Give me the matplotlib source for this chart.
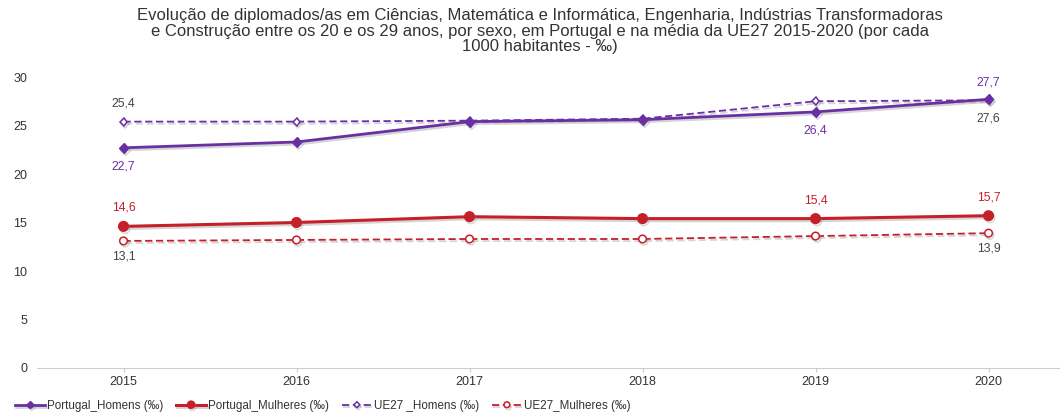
import matplotlib
matplotlib.use("Agg")
import matplotlib.pyplot as plt
import matplotlib.patheffects as pe

years = [2015, 2016, 2017, 2018, 2019, 2020]
pt_homens = [22.7, 23.3, 25.4, 25.6, 26.4, 27.7]
pt_mulheres = [14.6, 15.0, 15.6, 15.4, 15.4, 15.7]
ue_homens = [25.4, 25.4, 25.5, 25.7, 27.5, 27.6]
ue_mulheres = [13.1, 13.2, 13.3, 13.3, 13.6, 13.9]

labels = ["Portugal_Homens (‰)", "Portugal_Mulheres (‰)", "UE27 _Homens (‰)", "UE27_Mulheres (‰)"]
title = ("Evolução de diplomados/as em Ciências, Matemática e Informática, Engenharia, Indústrias Transformadoras\n"
         "e Construção entre os 20 e os 29 anos, por sexo, em Portugal e na média da UE27 2015-2020 (por cada\n"
         "1000 habitantes - ‰)")

plt.rcParams['font.family'] = ['Liberation Sans', 'DejaVu Sans']

purple = "#6a2fa3"
red = "#c51f2a"
grey = "#444444"

fig = plt.figure(figsize=(10.6, 4.12), dpi=100)
ax = fig.add_axes([37/1060, 1 - 368/412, (1060-37)/1060, (368-77)/412])

shadow = [pe.SimpleLineShadow(offset=(1, -1.5), shadow_color='#888888', alpha=0.35), pe.Normal()]

ax.plot(years, ue_homens, color=purple, lw=1.3, ls=(0, (4, 2)), marker='D', ms=4.0,
        mfc='white', mec=purple, mew=1.1, label=labels[2], path_effects=shadow, zorder=3)
ax.plot(years, ue_mulheres, color=red, lw=1.3, ls=(0, (4, 2)), marker='o', ms=5.5,
        mfc='white', mec=red, mew=1.1, label=labels[3], path_effects=shadow, zorder=3)
ax.plot(years, pt_homens, color=purple, lw=2.0, marker='D', ms=5.0,
        mfc=purple, mec=purple, label=labels[0], path_effects=shadow, zorder=4)
ax.plot(years, pt_mulheres, color=red, lw=2.2, marker='o', ms=7,
        mfc=red, mec=red, label=labels[1], path_effects=shadow, zorder=4)

def fmt(v):
    return f"{v:.1f}".replace('.', ',')

fs = 8.8

def lab(series, i, color, up, off=9):
    ax.annotate(fmt(series[i]), (years[i], series[i]), xytext=(0, off if up else -off),
                textcoords='offset points', ha='center', va='bottom' if up else 'top',
                color=color, fontsize=fs)

lab(ue_homens, 0, grey, True)
lab(pt_homens, 0, purple, False)
lab(pt_mulheres, 0, red, True)
lab(ue_mulheres, 0, grey, False, 7)
lab(pt_homens, 4, purple, False)
lab(pt_mulheres, 4, red, True)
lab(pt_homens, 5, purple, True, 8)
lab(ue_homens, 5, grey, False)
lab(pt_mulheres, 5, red, True)
lab(ue_mulheres, 5, grey, False, 7)

ax.set_xlim(2014.5, 2020.413)
ax.set_ylim(0, 30)
ax.set_yticks([0, 5, 10, 15, 20, 25, 30])
ax.set_xticks(years)
ax.set_xticklabels([str(y) for y in years])
for s in ['top', 'right', 'left']:
    ax.spines[s].set_visible(False)
ax.spines['bottom'].set_color('#cccccc')
ax.spines['bottom'].set_linewidth(0.8)
ax.tick_params(axis='y', length=0, labelsize=9, labelcolor='#333333', pad=7)
ax.tick_params(axis='x', length=3, color='#cccccc', labelsize=9, labelcolor='#333333', pad=3)
ax.patch.set_visible(False)

fig.text(540/1060, 1 - 8/412, title, ha='center', va='top', fontsize=12, color='#333333', linespacing=1.05)

handles, lbls = ax.get_legend_handles_labels()
order = [2, 3, 0, 1]
leg = fig.legend([handles[k] for k in order], [lbls[k] for k in order], loc='lower left',
                 bbox_to_anchor=(0.004, -0.025), ncol=4, frameon=False, fontsize=8.4,
                 handlelength=2.6, handletextpad=0.15, columnspacing=1.1, labelcolor='#333333',
                 markerscale=0.75)

fig.savefig("out.png", dpi=100)
